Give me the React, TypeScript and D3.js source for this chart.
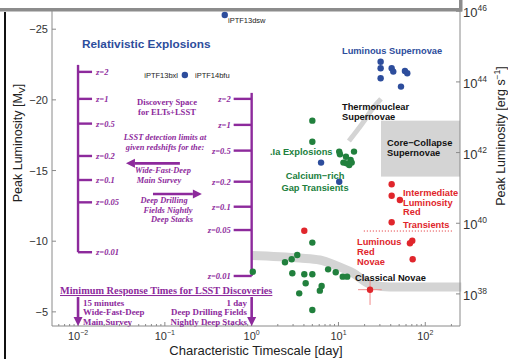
import React from "react";
import * as d3 from "d3";

// ---- axis ticks ----
const mvTicks = [-25, -20, -15, -10, -5];
const lumTicks = [38, 40, 42, 44, 46];
const timeDecades = [-2, -1, 0, 1, 2];

// ---- transient populations: [timescale (day), peak M_V] ----
const relativistic: [number, number][] = [
  [0.49, -26.0],
  [0.17, -21.76],
];
const luminousSN: [number, number][] = [
  [30.6, -22.7], [30.6, -22.24], [30.6, -21.53], [41, -22.24],
  [42.8, -22.0], [58.3, -22.05], [62, -21.88], [52.5, -20.94],
];
const blueOther: [number, number][] = [
  [6.3, -15.56], [10.2, -14.21],
];
const iaExplosions: [number, number][] = [
  [5.0, -18.53], [5.0, -17.04], [10.2, -16.34], [10.4, -16.15], [12.2, -15.98],
  [15.1, -16.34], [13.8, -15.75], [11.4, -15.56], [12.4, -15.51], [14.2, -15.56],
  [13.3, -15.39],
];
const novaeGreen: [number, number][] = [
  [5.0, -9.9], [2.42, -8.51], [2.89, -8.72], [3.35, -9.02], [2.94, -7.73],
  [4.04, -7.66], [5.0, -7.66], [7.6, -8.01], [9.3, -7.8], [11.2, -7.49],
  [12.6, -7.49], [4.19, -7.02], [6.4, -6.83], [6.1, -6.5], [3.53, -6.31],
  [5.0, -5.13], [1.03, -7.84],
];
const redTransients: [number, number][] = [
  [4.04, -10.74], [41, -14.03], [41, -13.22], [51, -12.92], [41, -11.34],
  [70.8, -10.04], [66.6, -9.85], [71.6, -8.72],
];
// point with uncertainties: [t, M, tLow, tHigh, mFaint, mBright]
const redWithErr: [number, number, number, number, number, number][] = [
  [23.1, -6.57, 16.8, 31.5, -5.49, -7.26],
];

// ---- shaded regions ----
const novaeBand: [number, number][] = [
  [1.0, -8.99], [3.6, -8.81], [6.1, -8.67], [9.6, -8.25], [14.7, -7.75],
  [23, -6.97], [39, -6.76], [260, -6.76],
];
const thermonuclearBand: [number, number][] = [
  [13.2, -17.09], [18.7, -18.3], [25, -19.43], [30.9, -20.07],
];
const coreCollapseBox = { t0: 30.9, mTop: -18.53, mBottom: -14.57 };
const ilrtDivider = { t0: 19.6, t1: 203, m: -10.72 };

// ---- LSST redshift ladders ----
const zLabels = ["z=2", "z=1", "z=0.5", "z=0.2", "z=0.1", "z=0.05", "z=0.01"];
const wfdLimitM = [-21.98, -20.07, -18.32, -16.03, -14.33, -12.75, -9.22];
const ddLimitM = [-20.07, -18.23, -16.41, -14.21, -12.44, -10.79, -7.54];
const wfdCadence = 0.01; // 15 minutes
const ddCadence = 1; // 1 day

// ---- colours ----
const BLUE = "#2d4d9c";
const GREEN = "#21803d";
const RED = "#e0262c";
const PURPLE = "#8d2a9c";
const BAND = "#d4d4d4";

const W = 508, H = 359;
const L = 52, R = 460, T = 8, B = 326;
const M_AT_1E38 = -6.27;
const logLum = (m: number) => 38 + (M_AT_1E38 - m) / 2.5;

const x = d3.scaleLog().domain([10 ** -2.3, 10 ** 2.4]).range([L, R]);
const y = d3.scaleLinear().domain([-4, -26.5]).range([B, T]);
const yL = d3.scaleLinear().domain([logLum(-4), logLum(-26.5)]).range([B, T]);

const SANS = "'Liberation Sans', Arial, Helvetica, sans-serif";
const SERIF = "'Liberation Serif', 'Times New Roman', serif";

function Dots({ data, color }: { data: [number, number][]; color: string }) {
  return (
    <g fill={color}>
      {data.map((d, i) => (
        <circle key={i} cx={x(d[0])} cy={y(d[1])} r={3.2} />
      ))}
    </g>
  );
}

function Arrow({ x1, y1, x2, y2 }: { x1: number; y1: number; x2: number; y2: number }) {
  const ang = Math.atan2(y2 - y1, x2 - x1);
  const len = 9, half = 4.5;
  const bx = x2 - len * Math.cos(ang), by = y2 - len * Math.sin(ang);
  const px = -Math.sin(ang) * half, py = Math.cos(ang) * half;
  return (
    <g>
      <line x1={x1} y1={y1} x2={bx} y2={by} stroke={PURPLE} strokeWidth={2.6} />
      <polygon points={`${x2},${y2} ${bx + px},${by + py} ${bx - px},${by - py}`} fill={PURPLE} />
    </g>
  );
}

export default function App() {
  const minor: number[] = [];
  for (let dcd = -3; dcd <= 2; dcd++) {
    for (let k = 2; k <= 9; k++) {
      const v = k * 10 ** dcd;
      if (v > x.domain()[0] && v < x.domain()[1]) minor.push(v);
    }
  }
  const bandLine = d3.line<[number, number]>().x((d) => x(d[0])).y((d) => y(d[1])).curve(d3.curveMonotoneX);
  const tnLine = d3.line<[number, number]>().x((d) => x(d[0])).y((d) => y(d[1])).curve(d3.curveCatmullRom);

  const wx = x(wfdCadence);
  const dx = x(ddCadence);

  return (
    <svg width={W} height={H} style={{ position: "absolute", left: 0, top: 0, background: "#fff" }} fontFamily={SANS}>
      <rect x={0} y={0} width={W} height={H} fill="#fff" />

      {/* shaded regions */}
      <path d={bandLine(novaeBand) || ""} fill="none" stroke={BAND} strokeWidth={9} />
      <path d={tnLine(thermonuclearBand) || ""} fill="none" stroke={BAND} strokeWidth={5} />
      <rect
        x={x(coreCollapseBox.t0)}
        y={y(coreCollapseBox.mTop)}
        width={R - x(coreCollapseBox.t0)}
        height={y(coreCollapseBox.mBottom) - y(coreCollapseBox.mTop)}
        fill={BAND}
      />
      <line x1={x(ilrtDivider.t0)} x2={x(ilrtDivider.t1)} y1={y(ilrtDivider.m)} y2={y(ilrtDivider.m)}
        stroke={RED} strokeWidth={1} strokeDasharray="1,2" />

      {/* axes frame */}
      <g stroke="#8a8a8a" strokeWidth={1} fill="none">
        <line x1={L} x2={L} y1={T} y2={B} />
        <line x1={L} x2={R} y1={B} y2={B} />
        <line x1={R} x2={R} y1={T} y2={B} />
      </g>
      {/* ticks */}
      <g stroke="#8a8a8a">
        {timeDecades.map((dd) => (
          <line key={dd} x1={x(10 ** dd)} x2={x(10 ** dd)} y1={B} y2={B - 4} />
        ))}
        {minor.map((v, i) => (
          <line key={i} x1={x(v)} x2={x(v)} y1={B} y2={B - 2} />
        ))}
        {mvTicks.map((m) => (
          <line key={m} x1={L} x2={L + 4} y1={y(m)} y2={y(m)} />
        ))}
        {lumTicks.map((l) => (
          <line key={l} x1={R} x2={R - 4} y1={yL(l)} y2={yL(l)} />
        ))}
      </g>
      <g fontSize={11} fill="#333">
        {timeDecades.map((dd) => (
          <text key={dd} x={x(10 ** dd)} y={340} textAnchor="middle">
            10<tspan fontSize={7} dy={-5}>{dd < 0 ? "\u2212" + Math.abs(dd) : dd}</tspan>
          </text>
        ))}
        {mvTicks.map((m) => (
          <text key={m} x={48} y={y(m) + 4} textAnchor="end" fontSize={11}>
            {"\u2212" + Math.abs(m)}
          </text>
        ))}
        {lumTicks.map((l) => (
          <text key={l} x={463} y={yL(l) + 6} fontSize={13}>
            10<tspan fontSize={8.5} dy={-6}>{l}</tspan>
          </text>
        ))}
      </g>
      <text x={256} y={355} textAnchor="middle" fontSize={13} fill="#222">
        Characteristic Timescale [day]
      </text>
      <text transform="translate(22,143) rotate(-90)" textAnchor="middle" fontSize={12.5} fill="#222">
        Peak Luminosity [M<tspan fontSize={9} dy={3}>V</tspan><tspan dy={-3}>]</tspan>
      </text>
      <text transform="translate(505,136) rotate(-90)" textAnchor="middle" fontSize={12.5} fill="#222">
        Peak Luminosity [erg s<tspan fontSize={8.5} dy={-5}>{"\u22121"}</tspan><tspan dy={5}>]</tspan>
      </text>

      {/* LSST redshift ladders */}
      <g stroke={PURPLE} strokeWidth={2.4}>
        <line x1={wx} x2={wx} y1={y(wfdLimitM[0]) - 7} y2={y(wfdLimitM[wfdLimitM.length - 1])} />
        {wfdLimitM.map((m, i) => (
          <line key={i} x1={wx} x2={wx + 14} y1={y(m)} y2={y(m)} />
        ))}
        <line x1={dx} x2={dx} y1={y(ddLimitM[0]) - 6} y2={y(ddLimitM[ddLimitM.length - 1])} />
        {ddLimitM.map((m, i) => (
          <line key={i} x1={dx - 18} x2={dx} y1={y(m)} y2={y(m)} />
        ))}
      </g>
      <g fill={PURPLE} fontFamily={SERIF} fontStyle="italic" fontWeight="bold" fontSize={8.5}>
        {wfdLimitM.map((m, i) => (
          <text key={i} x={wx + 18} y={y(m) + 3}>{zLabels[i]}</text>
        ))}
        {ddLimitM.map((m, i) => (
          <text key={i} x={dx - 21} y={y(m) + 3} textAnchor="end">{zLabels[i]}</text>
        ))}
      </g>

      {/* purple annotations */}
      <g fill={PURPLE} fontFamily={SERIF} fontWeight="bold" textAnchor="middle">
        <text x={167} y={105} fontSize={8.6}>Discovery Space</text>
        <text x={167} y={115} fontSize={8.6}>for ELTs+LSST</text>
        <g fontStyle="italic" fontSize={8.4}>
          <text x={165} y={139.5}>LSST detection limits at</text>
          <text x={165} y={149.5}>given redshifts for the:</text>
          <text x={163} y={173}>Wide-Fast-Deep</text>
          <text x={159} y={183}>Main Survey</text>
          <text x={164} y={203}>Deep Drilling</text>
          <text x={168} y={212.5}>Fields Nightly</text>
          <text x={172} y={222}>Deep Stacks</text>
        </g>
      </g>
      <Arrow x1={x(0.149)} y1={y(-15.51)} x2={x(0.0356)} y2={y(-15.51)} />
      <Arrow x1={x(0.073)} y1={y(-13.34)} x2={x(0.267)} y2={y(-13.34)} />

      <text x={60} y={294} fill={PURPLE} fontFamily={SERIF} fontWeight="bold" fontSize={10.3} textDecoration="underline">
        Minimum Response Times for LSST Discoveries
      </text>
      <Arrow x1={wx} y1={y(-6.05)} x2={wx} y2={B} />
      <Arrow x1={dx} y1={y(-6.05)} x2={dx} y2={B} />
      <g fill={PURPLE} fontFamily={SERIF} fontWeight="bold" fontSize={8.9}>
        <text x={83} y={305.5}>15 minutes</text>
        <text x={83} y={315}>Wide-Fast-Deep</text>
        <text x={83} y={324.5}>Main Survey</text>
        <g textAnchor="end">
          <text x={247} y={305.5}>1 day</text>
          <text x={247} y={315}>Deep Drilling Fields</text>
          <text x={247} y={324.5}>Nightly Deep Stacks</text>
        </g>
      </g>

      {/* data points */}
      <Dots data={novaeGreen} color={GREEN} />
      <Dots data={iaExplosions} color={GREEN} />
      <Dots data={relativistic} color={BLUE} />
      <Dots data={luminousSN} color={BLUE} />
      <Dots data={blueOther} color={BLUE} />
      {redWithErr.map((d, i) => (
        <g key={i} stroke="#f08a8a" strokeWidth={1}>
          <line x1={x(d[2])} x2={x(d[3])} y1={y(d[1])} y2={y(d[1])} />
          <line x1={x(d[0])} x2={x(d[0])} y1={y(d[4])} y2={y(d[5])} />
          <circle cx={x(d[0])} cy={y(d[1])} r={3.2} fill={RED} stroke="none" />
        </g>
      ))}
      <Dots data={redTransients} color={RED} />

      {/* population labels */}
      <g fontWeight="bold" fontSize={9.3}>
        <text x={82} y={48} fill={BLUE} fontSize={11.8}>Relativistic Explosions</text>
        <text x={228} y={23} fill="#222" fontWeight="normal" fontSize={7.5}>iPTF13dsw</text>
        <text x={178} y={78} fill="#222" fontWeight="normal" fontSize={7.5} textAnchor="end">iPTF13bxl</text>
        <text x={195} y={78} fill="#222" fontWeight="normal" fontSize={7.5}>iPTF14bfu</text>
        <text x={342} y={54} fill={BLUE}>Luminous Supernovae</text>
        <text x={342} y={110} fill="#111">Thermonuclear</text>
        <text x={342} y={120} fill="#111">Supernovae</text>
        <text x={387} y={145.5} fill="#111">Core−Collapse</text>
        <text x={387} y={155.5} fill="#111">Supernovae</text>
        <text x={270} y={154.5} fill={GREEN}>.Ia Explosions</text>
        <text x={315} y={178.5} fill={GREEN} textAnchor="middle">Calcium−rich</text>
        <text x={315} y={191} fill={GREEN} textAnchor="middle">Gap Transients</text>
        <text x={403} y={195.5} fill={RED}>Intermediate</text>
        <text x={403} y={205.5} fill={RED}>Luminosity</text>
        <text x={403} y={215} fill={RED}>Red</text>
        <text x={403} y={227.5} fill={RED}>Transients</text>
        <text x={357} y={245} fill={RED}>Luminous</text>
        <text x={357} y={254.5} fill={RED}>Red</text>
        <text x={357} y={264.5} fill={RED}>Novae</text>
        <text x={355} y={280.5} fill="#111">Classical Novae</text>
      </g>

      {/* page edges */}
      <rect x={0} y={8} width={462} height={3.5} fill="#8c8c8c" />
      <rect x={459} y={0} width={3.5} height={11.5} fill="#8c8c8c" />
      <rect x={4} y={12} width={2} height={H - 12} fill="#111" />
    </svg>
  );
}
